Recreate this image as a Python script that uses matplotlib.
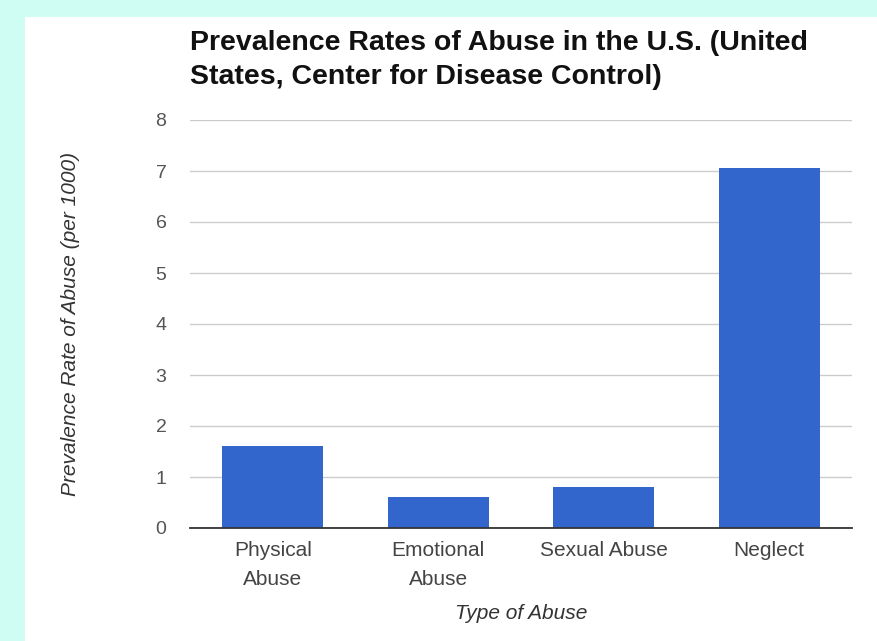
import matplotlib
matplotlib.use("Agg")
import matplotlib.pyplot as plt
from matplotlib.patches import Rectangle

plt.rcParams["font.family"] = ["Liberation Sans", "DejaVu Sans"]

categories = ["Physical\nAbuse", "Emotional\nAbuse", "Sexual Abuse", "Neglect"]
rates = [1.6, 0.6, 0.8, 7.05]
yticks = [0, 1, 2, 3, 4, 5, 6, 7, 8]

W, H = 878, 641
fig = plt.figure(figsize=(W / 100, H / 100), dpi=100)
fig.patch.set_facecolor("#cffdf3")
# white card inside the cyan page
fig.patches.append(Rectangle((25 / W, 0), 1 - 25 / W, 1 - 17 / H,
                             transform=fig.transFigure, facecolor="white",
                             edgecolor="none", zorder=-1))

ax = fig.add_axes([190 / W, 1 - 528 / H, 662 / W, 408 / H])
ax.set_zorder(2)
ax.set_facecolor("none")

x = range(len(categories))
ax.bar(x, rates, width=0.61, color="#3366cc", zorder=3)

ax.set_xlim(-0.5, len(categories) - 0.5)
ax.set_ylim(0, 8)
ax.set_yticks(yticks)
ax.set_xticks(list(x))
ax.set_xticklabels(categories, fontsize=15, color="#444444", linespacing=1.7)
ax.tick_params(axis="y", length=0, pad=17, labelsize=14, labelcolor="#555555")
ax.tick_params(axis="x", length=0, pad=9)
ax.grid(axis="y", color="#cccccc", lw=1, zorder=0)
for s in ["top", "right", "left"]:
    ax.spines[s].set_visible(False)
ax.spines["bottom"].set_color("#333333")
ax.spines["bottom"].set_linewidth(1.3)
ax.spines["bottom"].set_zorder(4)

ax.set_ylabel("Prevalence Rate of Abuse (per 1000)", fontsize=15,
              style="italic", color="#333333", labelpad=54)
ax.set_xlabel("Type of Abuse", fontsize=15, style="italic", color="#333333",
              labelpad=11)

fig.text(190 / W, 1 - 30 / H,
         "Prevalence Rates of Abuse in the U.S. (United\n"
         "States, Center for Disease Control)",
         ha="left", va="top", fontsize=20.5, fontweight="bold",
         color="#111111", linespacing=1.42, zorder=3)

fig.savefig("out.png", dpi=100, facecolor=fig.get_facecolor())
